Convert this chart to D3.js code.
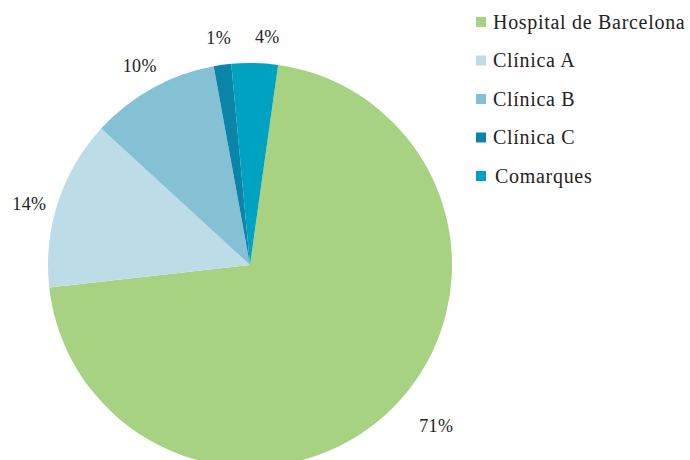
<!DOCTYPE html>
<html>
<head>
<meta charset="utf-8">
<script src="https://cdn.jsdelivr.net/npm/d3@7"></script>
<style>
  body { margin: 0; background: #fff; }
  svg { font-family: "Liberation Serif", "DejaVu Serif", serif; }
</style>
</head>
<body>
<div id="vis"></div>
<script>
// slices, in clockwise order
var categories = ["Hospital de Barcelona", "Clínica A", "Clínica B", "Clínica C", "Comarques"];
var values = [71.0, 13.6, 10.3, 1.4, 3.7];
var labels = ["71%", "14%", "10%", "1%", "4%"];
var colors = ["#a6d281", "#bcdde8", "#84c1d5", "#0a84a8", "#00a2c2"];

var width = 690, height = 460;
var cx = 250, cy = 265, radius = 202;
var rotation = 8 * Math.PI / 180;

var svg = d3.select('#vis').append('svg')
  .attr('width', width)
  .attr('height', height);

var pie = d3.pie()
  .sort(null)
  .value(function (d) { return d; })
  .startAngle(rotation)
  .endAngle(rotation + 2 * Math.PI);

var arcs = pie(values);

var arc = d3.arc().innerRadius(0).outerRadius(radius);

var g = svg.append('g').attr('transform', 'translate(' + cx + ',' + cy + ')');

g.selectAll('.slice')
  .data(arcs)
  .enter().append('path')
  .attr('class', 'slice')
  .attr('d', arc)
  .attr('fill', function (d, i) { return colors[i]; });

// labels sit just outside the rim; the big slice's label is pushed further out
function labelPos(d, i) {
  var a = (d.startAngle + d.endAngle) / 2;
  var r = radius + 27;
  if (i === 0) { a -= 5 * Math.PI / 180; r = radius + 44; }
  if (i === 1) { a -= 2.5 * Math.PI / 180; }
  if (i === 2) { r = radius + 26; }
  if (i === 4) { a += 3 * Math.PI / 180; }
  return [Math.sin(a) * r, -Math.cos(a) * r];
}

g.selectAll('.pct')
  .data(arcs)
  .enter().append('text')
  .attr('class', 'pct')
  .attr('transform', function (d, i) { return 'translate(' + labelPos(d, i) + ')'; })
  .attr('text-anchor', 'middle')
  .attr('dy', '0.35em')
  .attr('font-size', 18)
  .attr('letter-spacing', 0.4)
  .attr('fill', '#222')
  .text(function (d, i) { return labels[i]; });

// legend
var legend = svg.append('g').attr('transform', 'translate(476,22)');
var item = legend.selectAll('.item')
  .data(categories)
  .enter().append('g')
  .attr('class', 'item')
  .attr('transform', function (d, i) { return 'translate(0,' + (i * 38.5) + ')'; });

item.append('rect')
  .attr('x', 0).attr('y', -5)
  .attr('width', 10).attr('height', 10)
  .attr('fill', function (d, i) { return colors[i]; });

item.append('text')
  .attr('x', function (d, i) { return i === 4 ? 19 : 17; })
  .attr('dy', '0.33em')
  .attr('font-size', 20)
  .attr('letter-spacing', 0.7)
  .attr('fill', '#222')
  .text(function (d) { return d; });
</script>
</body>
</html>
